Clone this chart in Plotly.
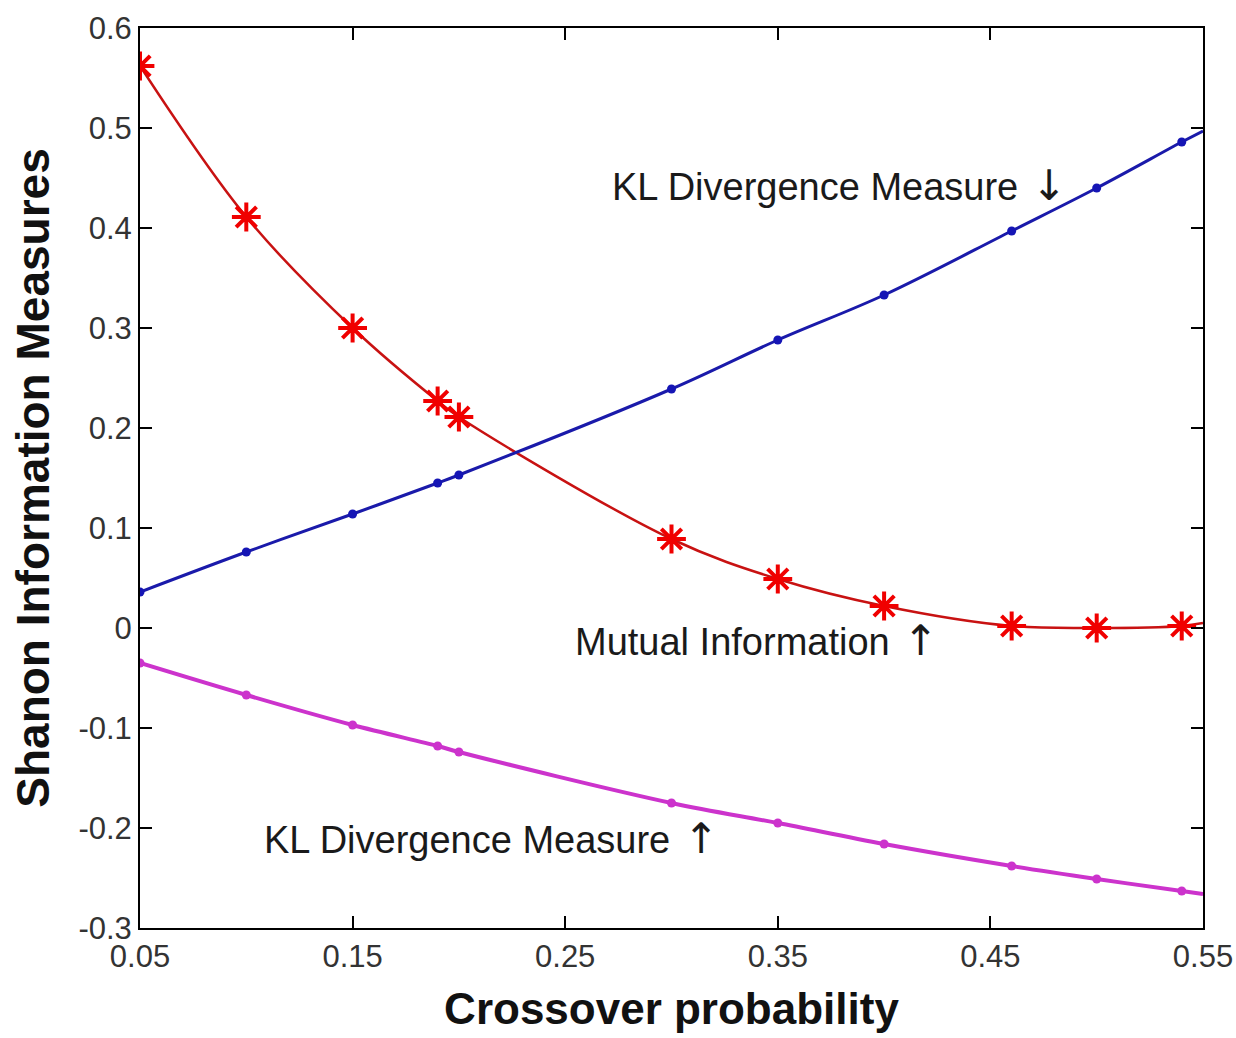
import plotly.graph_objects as go

# ---- data ----
crossover_p = [0.05, 0.10, 0.15, 0.19, 0.20, 0.30, 0.35, 0.40, 0.46, 0.50, 0.54]
mutual_info = [0.562, 0.411, 0.300, 0.227, 0.211, 0.089, 0.049, 0.022, 0.002, 0.000, 0.002]
kl_down = [0.036, 0.076, 0.114, 0.145, 0.153, 0.239, 0.288, 0.333, 0.397, 0.440, 0.486]
kl_up = [-0.035, -0.067, -0.097, -0.118, -0.124, -0.175, -0.195, -0.216, -0.238, -0.251, -0.263]

# curves continue to the right edge of the axes
curve_end_p = 0.55
mutual_info_end = 0.005
kl_down_end = 0.497
kl_up_end = -0.266

x_ticks = [0.05, 0.15, 0.25, 0.35, 0.45, 0.55]
x_tick_labels = ["0.05", "0.15", "0.25", "0.35", "0.45", "0.55"]
y_ticks = [-0.3, -0.2, -0.1, 0.0, 0.1, 0.2, 0.3, 0.4, 0.5, 0.6]
y_tick_labels = ["-0.3", "-0.2", "-0.1", "0", "0.1", "0.2", "0.3", "0.4", "0.5", "0.6"]

label_texts = ["KL Divergence Measure", "Mutual Information", "KL Divergence Measure"]
label_arrows = ["\u2193", "\u2191", "\u2191"]
label_x = [0.271, 0.2535, 0.1075]
label_y = [0.443, -0.012, -0.210]

FONT = "Liberation Sans, Arial, sans-serif"

fig = go.Figure()

x_curve = crossover_p + [curve_end_p]

series = [
    (mutual_info, mutual_info_end, "#c81212", "#f00000", "asterisk-open", 24, 2.5),
    (kl_down, kl_down_end, "#1a1aaa", "#1515b5", "circle", 9, 3),
    (kl_up, kl_up_end, "#cc33cc", "#cc33cc", "circle", 9, 4),
]

for vals, end, lcol, mcol, sym, msize, lw in series:
    fig.add_trace(go.Scatter(
        x=x_curve, y=vals + [end], mode="lines",
        line=dict(color=lcol, width=lw, shape="spline", smoothing=1.0),
        hoverinfo="skip", showlegend=False,
    ))
    if sym == "asterisk-open":
        marker = dict(symbol=sym, size=msize, color=mcol,
                      line=dict(color=mcol, width=4))
    else:
        marker = dict(symbol=sym, size=msize, color=mcol, line=dict(width=0))
    fig.add_trace(go.Scatter(
        x=crossover_p, y=vals, mode="markers", marker=marker,
        showlegend=False,
    ))

for t, arr, xx, yy in zip(label_texts, label_arrows, label_x, label_y):
    fig.add_annotation(
        x=xx, y=yy, xref="x", yref="y",
        text=t + '<span style="font-family:DejaVu Sans;font-size:42px"> ' + arr + "</span>",
        showarrow=False, xanchor="left", yanchor="middle",
        font=dict(family=FONT, size=38, color="#1a1a1a"),
    )

axis_common = dict(
    showgrid=False, zeroline=False, showline=True, linecolor="black",
    linewidth=2, mirror="ticks", ticks="inside", ticklen=12, tickwidth=1.5,
    tickcolor="black", tickfont=dict(family=FONT, size=31, color="#333333"),
    automargin=False,
)

fig.update_xaxes(
    range=[0.05, 0.55], tickvals=x_ticks, ticktext=x_tick_labels,
    title=dict(text="<b>Crossover probability</b>",
               font=dict(family=FONT, size=44, color="#111111"), standoff=20),
    **axis_common,
)
fig.update_yaxes(
    range=[-0.3, 0.6], tickvals=y_ticks, ticktext=y_tick_labels,
    title=dict(text="<b>Shanon Information Measures</b>",
               font=dict(family=FONT, size=46, color="#111111"), standoff=14),
    **axis_common,
)

fig.update_layout(
    width=1236, height=1038,
    margin=dict(l=140, r=33, t=28, b=110),
    paper_bgcolor="white", plot_bgcolor="white",
)

fig.write_html("out.html")
